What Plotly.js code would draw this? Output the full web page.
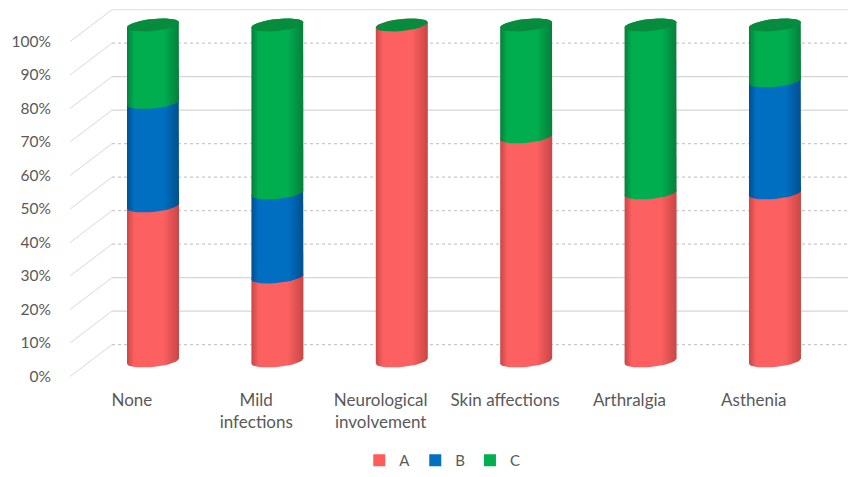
<!DOCTYPE html>
<html>
<head>
<meta charset="utf-8">
<script src="https://cdn.plot.ly/plotly-3.0.1.min.js"></script>
<style>html,body{margin:0;padding:0;background:#fff}</style>
</head>
<body>
<div id="chart" style="width:848px;height:477px"></div>
<script>
// Share of patients per symptom group (percent)
const categories = ["None", "Mild<br>infections", "Neurological<br>involvement", "Skin affections", "Arthralgia", "Asthenia"];
const seriesA = [46.15, 25, 100, 66.67, 50, 50];
const seriesB = [30.77, 25, 0, 0, 0, 33.33];
const seriesC = [23.08, 50, 0, 33.33, 50, 16.67];
const seriesNames = ["A", "B", "C"];
const percentTicks = [0, 10, 20, 30, 40, 50, 60, 70, 80, 90, 100];
const gridDashes = ["dash", "solid", "solid", "dash", "dash", "dash", "dash", "solid", "solid", "dash", "solid"];

// Fill colours: flat legend colour, shaded edge, lit centre
const flatColors = ["#FF5B5B", "#0070C0", "#00B050"];
const edgeColors = ["#C94646", "#00508F", "#067F3B"];
const midColors = ["#FC6060", "#006FC2", "#00AE50"];
const capColor = "#078C3E";

// Oblique projection used for the walls and the cylinders
const wallX = -0.667, backX = -0.33, wallLift = 9.5;
const cylLift = 4.63, cylScale = 1.003;
const radiusX = 0.209, radiusY = 1.8, skewY = 0.75;
const projectY = v => cylLift + cylScale * v;

function rim(cx, cy, from, to) {
  const xs = [], ys = [], steps = 24;
  for (let k = 0; k <= steps; k++) {
    const t = from + (to - from) * k / steps;
    xs.push(cx + radiusX * Math.cos(t));
    ys.push(cy + radiusY * Math.sin(t) + skewY * Math.cos(t));
  }
  return [xs, ys];
}

const traces = [];
const stacks = [seriesA, seriesB, seriesC];
const positions = categories.map((_, i) => i);

// Stacked columns, which also supply the legend entries
stacks.forEach((values, s) => {
  traces.push({
    type: "bar", name: seriesNames[s], x: positions,
    y: values.map(v => v * cylScale),
    base: values.map((_, i) => {
      let sum = 0;
      for (let p = 0; p < s; p++) sum += stacks[p][i];
      return projectY(sum);
    }),
    width: 0.3, marker: {color: flatColors[s], line: {width: 0}},
    hoverinfo: "skip"
  });
});

// Rounded cylinder bodies drawn bottom to top so each one hides the rim below it
positions.forEach(i => {
  let sum = 0;
  stacks.forEach((values, s) => {
    const v = values[i];
    if (v > 0) {
      const low = rim(i, projectY(sum), Math.PI, 2 * Math.PI);
      const high = rim(i, projectY(sum + v), 0, Math.PI);
      traces.push({
        type: "scatter", mode: "lines", showlegend: false, hoverinfo: "skip",
        x: low[0].concat(high[0]), y: low[1].concat(high[1]),
        fill: "toself", line: {width: 0},
        fillgradient: {
          type: "horizontal", start: i - radiusX, stop: i + radiusX,
          colorscale: [[0, edgeColors[s]], [0.14, midColors[s]], [0.7, midColors[s]], [1, edgeColors[s]]]
        }
      });
    }
    sum += v;
  });
  const cap = rim(i, projectY(sum), 0, 2 * Math.PI);
  traces.push({
    type: "scatter", mode: "lines", showlegend: false, hoverinfo: "skip",
    x: cap[0], y: cap[1], fill: "toself", fillcolor: capColor, line: {width: 0}
  });
});

// Floor-to-wall guides and back wall gridlines
const shapes = [];
percentTicks.forEach((p, k) => {
  const color = p === 100 ? "#E6E6E6" : "#D6D6D6";
  shapes.push({type: "line", layer: "below", x0: wallX, y0: p, x1: backX, y1: p + wallLift,
    line: {color: "#D9D9D9", width: 1}});
  shapes.push({type: "line", layer: "below", x0: backX, y0: p + wallLift, x1: 5.587, y1: p + wallLift,
    line: {color: gridDashes[k] === "dash" ? "#C9C9C9" : color, width: 1.2,
           dash: gridDashes[k] === "dash" ? "3px,3px" : "solid"}});
});

const layout = {
  width: 848, height: 477,
  margin: {l: 52, r: 0, t: 0, b: 89},
  paper_bgcolor: "#fff", plot_bgcolor: "#fff",
  barmode: "overlay", showlegend: true, shapes: shapes,
  font: {family: "Lato, sans-serif", color: "#595959"},
  xaxis: {
    range: [-0.812, 5.587], showgrid: false, zeroline: false, showline: false, ticks: "",
    tickmode: "array", tickvals: positions.map(i => i - 0.17), ticktext: categories,
    tickangle: 0, tickfont: {size: 17, color: "#595959"}, automargin: false
  },
  yaxis: {
    range: [-3.43, 112.39], showgrid: false, zeroline: false, showline: false, ticks: "",
    tickmode: "array", tickvals: percentTicks, ticktext: percentTicks.map(p => p + "%"),
    tickfont: {size: 15.5, color: "#595959"}, automargin: false
  },
  legend: {
    orientation: "h", x: 0.386, xanchor: "left", xref: "paper",
    y: 0, yanchor: "bottom", yref: "container",
    font: {size: 15, color: "#595959"}, traceorder: "normal", bgcolor: "rgba(0,0,0,0)"
  }
};

Plotly.newPlot("chart", traces, layout, {displayModeBar: false, staticPlot: true});
</script>
</body>
</html>
